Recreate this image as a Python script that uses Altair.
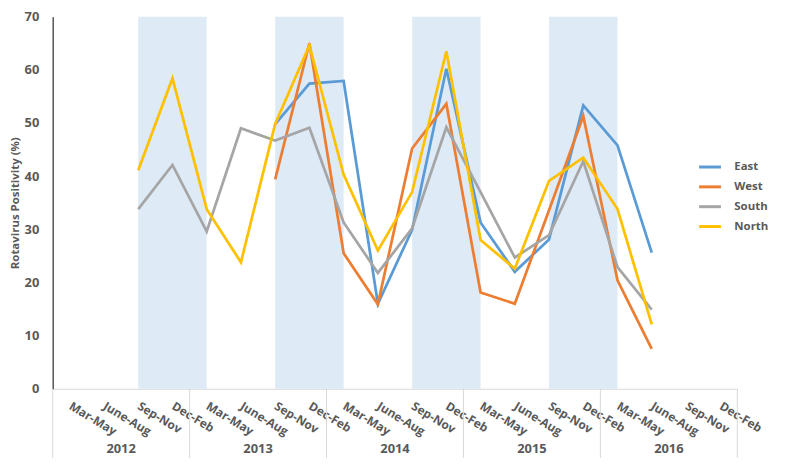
import json
import altair as alt
import pandas as pd

seasons = ["Mar-May", "June-Aug", "Sep-Nov", "Dec-Feb"]
years = ["2012", "2013", "2014", "2015", "2016"]
regions = ["East", "West", "South", "North"]
colors = ["#5B9BD5", "#ED7D31", "#A5A5A5", "#FFC000"]

east = [None] * 6 + [49.8, 57.4, 57.9, 16.0, 29.9, 60.2, 31.3, 22.0, 28.1, 53.3, 45.8, 25.6, None, None]
west = [None] * 6 + [39.4, 65.0, 25.5, 15.9, 45.2, 53.6, 18.1, 16.0, 33.6, 51.3, 20.4, 7.5, None, None]
south = [None, None, 33.8, 42.1, 29.6, 49.0, 46.7, 49.1, 31.3, 21.8, 30.2, 49.2, 37.0, 24.7, 28.9, 42.8, 22.9, 14.9, None, None]
north = [None, None, 41.1, 58.4, 33.8, 23.8, 49.8, 64.6, 40.3, 26.0, 37.0, 63.5, 28.0, 22.6, 39.1, 43.5, 33.8, 12.1, None, None]

shaded_start = [2, 6, 10, 14]  # period index where each shaded band begins

n_periods = len(seasons) * len(years)
W, H = 690, 375
GREY = "#595959"
FONT = "Open Sans"

rows = []
for reg, vals in zip(regions, [east, west, south, north]):
    for i, v in enumerate(vals):
        if v is not None:
            rows.append({"i": i, "region": reg, "value": v})
df = pd.DataFrame(rows)

bands = pd.DataFrame({"x": shaded_start, "x2": [s + 2 for s in shaded_start]})
seps = pd.DataFrame({"x": [k * len(seasons) - 0.5 for k in range(len(years) + 1)]})
yrs = pd.DataFrame({"x": [k * len(seasons) + 1.5 for k in range(len(years))], "year": years})

xscale = alt.Scale(domain=[-0.5, n_periods - 0.5], nice=False, zero=False)
label_expr = json.dumps(seasons) + "[datum.value % 4]"

x_axis = alt.Axis(
    values=list(range(n_periods)), labelExpr=label_expr, labelAngle=31,
    labelAlign="left", labelBaseline="middle", labelPadding=16, ticks=False,
    grid=False, domainColor="#D9D9D9", labelColor=GREY, labelFont=FONT,
    labelFontSize=12, labelFontWeight="bold", title=None,
    labelOverlap=False, labelBound=False, labelFlush=False)

band_layer = alt.Chart(bands).mark_rect(color="#DEEBF7").encode(
    x=alt.X("x:Q", scale=xscale, axis=x_axis),
    x2="x2:Q",
    y=alt.value(0),
    y2=alt.value(H),
)

sep_layer = alt.Chart(seps).mark_rule(color="#D9D9D9", strokeWidth=1).encode(
    x=alt.X("x:Q", scale=xscale, axis=x_axis),
    y=alt.value(H),
    y2=alt.value(H + 72),
)

year_layer = alt.Chart(yrs).mark_text(
    font=FONT, fontSize=13, fontWeight="bold", color=GREY, baseline="middle"
).encode(
    x=alt.X("x:Q", scale=xscale, axis=x_axis),
    y=alt.value(H + 61),
    text="year:N",
)

line_layer = alt.Chart(df).mark_line(strokeWidth=2.75).encode(
    x=alt.X("i:Q", scale=xscale, axis=x_axis),
    y=alt.Y("value:Q", scale=alt.Scale(domain=[0, 70], nice=False),
            axis=alt.Axis(values=list(range(0, 71, 10)), grid=False, ticks=False,
                          domainColor="#000000", labelColor=GREY, labelFont=FONT,
                          labelFontSize=13, labelFontWeight="bold", labelPadding=14,
                          title="Rotavirus Positivity (%)", titleColor=GREY,
                          titleFont=FONT, titleFontSize=11.5, titleFontWeight="bold",
                          titleX=-32)),
    color=alt.Color("region:N", scale=alt.Scale(domain=regions, range=colors),
                    sort=regions,
                    legend=alt.Legend(title=None, orient="none", legendX=650, legendY=139,
                                      symbolType="stroke", symbolSize=484,
                                      symbolStrokeWidth=3, labelFont=FONT,
                                      labelFontSize=11.5, labelFontWeight="bold",
                                      labelColor=GREY, labelOffset=12, rowPadding=1)),
    detail="region:N",
)

chart = alt.layer(band_layer, sep_layer, year_layer, line_layer).properties(
    width=W, height=H,
    padding={"left": 45, "top": 7, "right": 41, "bottom": 68},
    autosize=alt.AutoSizeParams(type="none"),
).configure(font=FONT).configure_view(stroke=None)

chart.save("out.html", embed_options={"renderer": "svg", "actions": False})
